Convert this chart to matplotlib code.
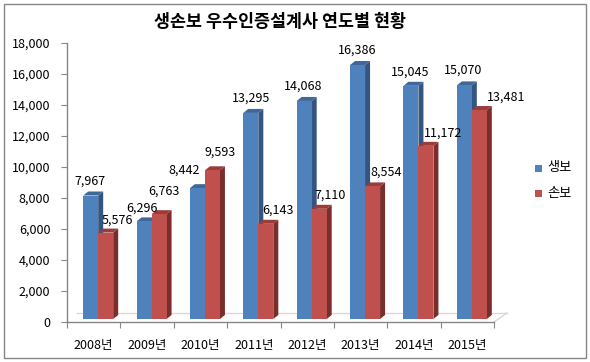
import matplotlib
matplotlib.use("Agg")
import matplotlib.pyplot as plt
from matplotlib.patches import Polygon, Rectangle
from matplotlib.lines import Line2D

plt.rcParams['font.family'] = ['Noto Sans CJK KR', 'DejaVu Sans']

title = "생손보 우수인증설계사 연도별 현황"
years = ["2008년", "2009년", "2010년", "2011년", "2012년", "2013년", "2014년", "2015년"]
series_names = ["생보", "손보"]
life = [7967, 6296, 8442, 13295, 14068, 16386, 15045, 15070]
nonlife = [5576, 6763, 9593, 6143, 7110, 8554, 11172, 13481]
y_ticks = [0, 2000, 4000, 6000, 8000, 10000, 12000, 14000, 16000, 18000]

# label offsets in pixels (dx, dy) from the front-top centre of each bar
life_lbl_off = [(-1, 14), (-2, 13), (-13, 18), (0, 15), (-1, 15), (0, 15), (-1, 14), (-1, 15)]
nonlife_lbl_off = [(12, 12), (5, 23), (8, 18), (12, 14), (11, 14), (14, 14), (17, 13), (27, 13)]

W, H, DPI = 590, 362, 100
fig = plt.figure(figsize=(W / DPI, H / DPI), dpi=DPI)

# axes geometry in pixels
ax_l, ax_r, ax_b, ax_t = 67, 494, 322, 43
ax = fig.add_axes([ax_l / W, (H - ax_b) / H, (ax_r - ax_l) / W, (ax_b - ax_t) / H])
n = len(years)
ax.set_xlim(-0.5, n - 0.5)
ax.set_ylim(0, 18000)

px_x = (n) / (ax_r - ax_l)           # data units per pixel in x
px_y = 18000 / (ax_b - ax_t)         # data units per pixel in y

lift = 3 * px_y
depth_x = 5 * px_x
depth_y = 4 * px_y
bw = 15 * px_x
off_blue = -3 * px_x
off_red = 12 * px_x

colors = {
    "blue": ("#4F81BD", "#34557F", "#3F679A"),
    "red": ("#C0504D", "#7A2E2C", "#9A3C3A"),
}

# floor
floor_col = "#D9D9D9"
ax.add_line(Line2D([-0.5 + 10 * px_x, n - 0.5 + 13 * px_x], [9 * px_y, 9 * px_y],
                   color=floor_col, lw=1, clip_on=False, zorder=1))
ax.add_line(Line2D([n - 0.5, n - 0.5 + 13 * px_x], [0, 9 * px_y],
                   color=floor_col, lw=1, clip_on=False, zorder=1))


def draw_bars(vals, off, key, label_offs):
    front, side, top = colors[key]
    xs = [i + off for i in range(n)]
    ax.bar(xs, vals, width=bw, bottom=lift, color=front, edgecolor='none', zorder=3)
    for x, v, (dx, dy) in zip(xs, vals, label_offs):
        x0, x1 = x - bw / 2, x + bw / 2
        y0, y1 = lift, lift + v
        side_poly = Polygon([(x1, y0), (x1 + depth_x, y0 + depth_y), (x1 + depth_x, y1 + depth_y), (x1, y1)],
                            closed=True, facecolor=side, edgecolor='none', zorder=2.9)
        top_poly = Polygon([(x0, y1), (x0 + depth_x, y1 + depth_y), (x1 + depth_x, y1 + depth_y), (x1, y1)],
                           closed=True, facecolor=top, edgecolor='none', zorder=2.9)
        ax.add_patch(side_poly)
        ax.add_patch(top_poly)
        ax.annotate(f"{v:,}", xy=(x, y1), xytext=(dx, dy), textcoords='offset pixels',
                    ha='center', va='center', fontsize=9, color='black', zorder=5,
                    annotation_clip=False)


draw_bars(life, off_blue, "blue", life_lbl_off)
draw_bars(nonlife, off_red, "red", nonlife_lbl_off)

# axes styling
axis_col = "#868686"
for s in ["top", "right"]:
    ax.spines[s].set_visible(False)
for s in ["left", "bottom"]:
    ax.spines[s].set_color(axis_col)
    ax.spines[s].set_linewidth(1)
ax.set_yticks(y_ticks)
ax.set_yticklabels([f"{t:,}" for t in y_ticks])
ax.tick_params(axis='y', direction='out', length=4, color=axis_col, labelsize=9, pad=8)
ax.set_xticks([i - 0.5 for i in range(n + 1)], minor=False)
ax.set_xticklabels([])
ax.tick_params(axis='x', which='major', direction='out', length=4, color=axis_col)
ax.set_xticks(list(range(n)), minor=True)
ax.set_xticklabels(years, minor=True)
ax.tick_params(axis='x', which='minor', length=0, labelsize=9, pad=12)
ax.patch.set_alpha(0)

# title
fig.text(280 / W, 1 - 22 / H, title, ha='center', va='center', fontsize=12.5, fontweight='bold')

# legend
for j, (name, key) in enumerate(zip(series_names, ["blue", "red"])):
    yc = 168 + j * 25
    fig.patches.append(Rectangle((535 / W, 1 - (yc + 3.5) / H), 7 / W, 7 / H,
                                 transform=fig.transFigure, facecolor=colors[key][0],
                                 edgecolor='none'))
    fig.text(547 / W, 1 - yc / H, name, ha='left', va='center', fontsize=9.5)

# outer border
fig.patches.append(Rectangle((4 / W, 4 / H), (W - 8) / W, (H - 8) / H,
                             transform=fig.transFigure, facecolor='none',
                             edgecolor=axis_col, lw=1))

fig.savefig("out.png", dpi=DPI)
